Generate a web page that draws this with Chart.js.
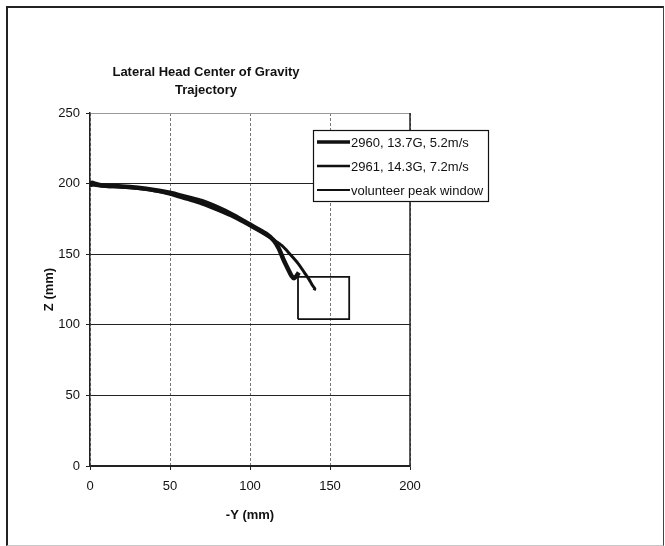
<!DOCTYPE html>
<html>
<head>
<meta charset="utf-8">
<title>Lateral Head Center of Gravity Trajectory</title>
<script src="https://cdn.jsdelivr.net/npm/chart.js@4.4.1/dist/chart.umd.min.js"></script>
<style>
    html, body { margin: 0; padding: 0; background: #fff; }
    #wrap { position: relative; width: 665px; height: 546px; overflow: hidden; }
    #frame {
        position: absolute; left: 6px; top: 6px; width: 655px; height: 537px;
        border-left: 2px solid #222; border-top: 2px solid #222;
        border-right: 1px solid #444; border-bottom: 1px solid #c8c8c8;
    }
    #chart { position: absolute; left: 0; top: 0; }
</style>
</head>
<body>
<div id="wrap">
    <div id="frame"></div>
    <canvas id="chart" width="665" height="546"></canvas>
</div>
<script>
// 标题
const TITLE_LINES = ['Lateral Head Center of Gravity', 'Trajectory'];
const X_TITLE = '-Y (mm)';
const Y_TITLE = 'Z (mm)';

// 坐标轴刻度
const X_TICKS = [0, 50, 100, 150, 200];
const Y_TICKS = [0, 50, 100, 150, 200, 250];

// 图例文字
const SERIES_LABELS = ['2960, 13.7G, 5.2m/s', '2961, 14.3G, 7.2m/s', 'volunteer peak window'];

// 2960 轨迹 (-Y, Z)
const run2960Y = [0, 1, 3, 6, 10, 20, 30, 40, 50, 60, 70, 80, 90, 100, 110, 115, 118, 121, 124, 126, 127.5, 129, 130.5];
const run2960Z = [198, 200.5, 200, 199, 198.5, 198, 197, 195.5, 193.5, 190.5, 187.5, 183, 177.5, 171, 164.5, 159.5, 154, 146, 139, 134.5, 133, 134.5, 137];

// 2961 轨迹 (-Y, Z)
const run2961Y = [0, 5, 10, 20, 30, 40, 50, 60, 70, 80, 90, 100, 110, 115, 120, 125, 130, 134, 137, 139, 140.5, 140];
const run2961Z = [199, 198.5, 198, 197.5, 196.5, 195, 192.5, 189, 185.5, 181, 176, 170, 163.5, 160, 156, 150, 143.5, 137, 132, 128, 125.5, 124.5];

// 志愿者峰值窗口
const windowY = [130, 162, 162, 130, 130];
const windowZ = [104, 104, 134, 134, 104];

function toPoints(xs, ys) {
    return xs.map((x, i) => ({ x: x, y: ys[i] }));
}

const FONT = 'Arial, "Liberation Sans", Helvetica, sans-serif';
const INK = '#111';

// 标题插件
const titlePlugin = {
    id: 'fixedTitle',
    afterDraw(chart) {
        const ctx = chart.ctx;
        ctx.save();
        ctx.fillStyle = INK;
        ctx.font = 'bold 13px ' + FONT;
        ctx.textAlign = 'center';
        ctx.textBaseline = 'middle';
        TITLE_LINES.forEach((line, i) => {
            ctx.fillText(line, 206, 72 + i * 18);
        });
        ctx.restore();
    }
};

// 右边框
const frameEdgePlugin = {
    id: 'frameEdge',
    beforeDatasetsDraw(chart) {
        const a = chart.chartArea;
        const ctx = chart.ctx;
        ctx.save();
        ctx.strokeStyle = '#222';
        ctx.lineWidth = 1.5;
        ctx.beginPath();
        ctx.moveTo(a.right, a.top);
        ctx.lineTo(a.right, a.bottom);
        ctx.stroke();
        ctx.restore();
    }
};

// 图例插件（Excel 风格，压在绘图区上）
const boxLegendPlugin = {
    id: 'boxLegend',
    afterDraw(chart) {
        const ctx = chart.ctx;
        const left = 313, top = 130, right = 488, bottom = 201;
        ctx.save();
        ctx.fillStyle = '#fff';
        ctx.fillRect(left, top, right - left, bottom - top);
        ctx.strokeStyle = '#111';
        ctx.lineWidth = 1.2;
        ctx.strokeRect(left + 0.5, top + 0.5, right - left, bottom - top);
        ctx.font = '13px ' + FONT;
        ctx.textBaseline = 'middle';
        ctx.fillStyle = INK;
        chart.data.datasets.forEach((ds, i) => {
            const y = 142 + i * 24;
            ctx.strokeStyle = ds.borderColor;
            ctx.lineWidth = ds.legendWidth;
            ctx.beginPath();
            ctx.moveTo(317, y);
            ctx.lineTo(350, y);
            ctx.stroke();
            ctx.fillText(ds.label, 351, y + 1);
        });
        ctx.restore();
    }
};

const ctx = document.getElementById('chart').getContext('2d');
const chart = new Chart(ctx, {
    type: 'scatter',
    data: {
        datasets: [{
            label: SERIES_LABELS[0],
            data: toPoints(run2960Y, run2960Z),
            showLine: true,
            borderColor: INK,
            borderWidth: 4.5,
            legendWidth: 3.5,
            pointRadius: 0,
            tension: 0.3
        }, {
            label: SERIES_LABELS[1],
            data: toPoints(run2961Y, run2961Z),
            showLine: true,
            borderColor: INK,
            borderWidth: 3,
            legendWidth: 2.4,
            pointRadius: 0,
            tension: 0.3
        }, {
            label: SERIES_LABELS[2],
            data: toPoints(windowY, windowZ),
            showLine: true,
            borderColor: INK,
            borderWidth: 1.8,
            legendWidth: 1.8,
            pointRadius: 0,
            tension: 0
        }]
    },
    options: {
        responsive: false,
        animation: false,
        events: [],
        layout: { padding: { left: 0, right: 255, top: 113, bottom: 0 } },
        plugins: {
            legend: { display: false },
            title: { display: false },
            tooltip: { enabled: false }
        },
        scales: {
            x: {
                type: 'linear',
                min: 0,
                max: 200,
                afterBuildTicks(scale) {
                    scale.ticks = X_TICKS.map(v => ({ value: v }));
                },
                afterFit(scale) { scale.height = 80; },
                ticks: {
                    color: INK,
                    font: { family: FONT, size: 13 },
                    padding: 9,
                    maxRotation: 0
                },
                grid: {
                    color: '#777',
                    lineWidth: 1,
                    tickLength: 4,
                    tickColor: '#222',
                    tickBorderDash: []
                },
                border: { color: '#222', width: 1.5, dash: [3, 2] },
                title: {
                    display: true,
                    text: X_TITLE,
                    color: INK,
                    font: { family: FONT, size: 13, weight: 'bold' },
                    padding: { top: 0, bottom: 23 }
                }
            },
            y: {
                type: 'linear',
                min: 0,
                max: 250,
                afterBuildTicks(scale) {
                    scale.ticks = Y_TICKS.map(v => ({ value: v }));
                },
                afterFit(scale) { scale.width = 90; },
                ticks: {
                    color: INK,
                    font: { family: FONT, size: 13 },
                    padding: 6
                },
                grid: {
                    color: c => (c.tick && c.tick.value === 250) ? '#999' : '#222',
                    lineWidth: 1,
                    tickLength: 4,
                    tickColor: '#222'
                },
                border: { color: '#222', width: 1.5 },
                title: {
                    display: true,
                    text: Y_TITLE,
                    color: INK,
                    font: { family: FONT, size: 13, weight: 'bold' },
                    padding: { top: 42, bottom: 0 }
                }
            }
        }
    },
    plugins: [frameEdgePlugin, titlePlugin, boxLegendPlugin]
});
</script>
</body>
</html>
